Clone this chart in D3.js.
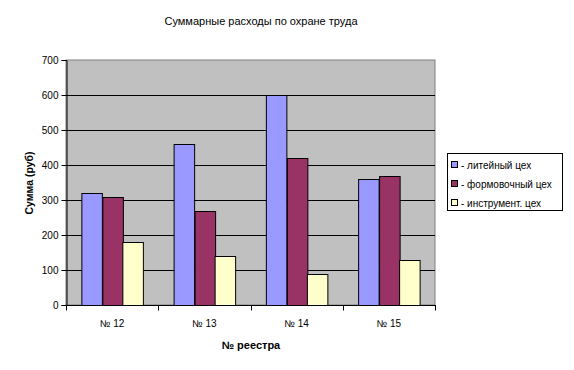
<!DOCTYPE html>
<html>
<head>
<meta charset="utf-8">
<script src="https://cdn.jsdelivr.net/npm/d3@7"></script>
<style>
  body { margin: 0; background: #fff; }
  svg { font-family: 'Liberation Sans', Arial, sans-serif; }
</style>
</head>
<body>
<svg id="chart" width="574" height="370"></svg>
<script>
const categories = ['№ 12', '№ 13', '№ 14', '№ 15']
const seriesNames = ['- литейный цех', '- формовочный цех', '- инструмент. цех']
const liteiny = [320, 460, 600, 360]
const formovochny = [310, 270, 420, 370]
const instrument = [180, 140, 90, 130]
const yTicks = [0, 100, 200, 300, 400, 500, 600, 700]
const colors = ['#9999FF', '#993366', '#FFFFCC']

const series = [liteiny, formovochny, instrument]
const data = categories.map((c, i) => ({
  cat: c,
  values: series.map((s, j) => ({ key: j, value: s[i] })),
}))

const svg = d3.select('#chart')
const plot = { left: 66, top: 60, right: 435, bottom: 305 }

const x0 = d3.scaleBand()
  .domain(categories)
  .range([plot.left, plot.right])
  .paddingInner(0.333)
  .paddingOuter(0.1665)
const x1 = d3.scaleBand()
  .domain(d3.range(series.length))
  .range([0, x0.bandwidth()])
const y = d3.scaleLinear().domain([0, 700]).range([plot.bottom, plot.top])

// plot background
svg.append('rect')
  .attr('x', plot.left)
  .attr('y', plot.top)
  .attr('width', plot.right - plot.left)
  .attr('height', plot.bottom - plot.top)
  .attr('fill', '#C0C0C0')
  .attr('stroke', '#808080')
  .attr('stroke-width', 1)

// gridlines
svg.append('g')
  .selectAll('line')
  .data(yTicks.filter((d) => d > 0 && d < 700))
  .enter()
  .append('line')
  .attr('x1', plot.left)
  .attr('x2', plot.right)
  .attr('y1', (d) => Math.round(y(d)) + 0.5)
  .attr('y2', (d) => Math.round(y(d)) + 0.5)
  .attr('stroke', '#000')

// bars
svg.append('g')
  .selectAll('g')
  .data(data)
  .enter()
  .append('g')
  .attr('transform', (d) => `translate(${x0(d.cat)},0)`)
  .selectAll('rect')
  .data((d) => d.values)
  .enter()
  .append('rect')
  .attr('x', (d) => Math.round(x1(d.key)) + 0.5)
  .attr('y', (d) => Math.round(y(d.value)) + 0.5)
  .attr('width', x1.bandwidth())
  .attr('height', (d) => plot.bottom - Math.round(y(d.value)))
  .attr('fill', (d) => colors[d.key])
  .attr('stroke', '#000')
  .attr('stroke-width', 1)

// y axis
const yAxis = svg.append('g')
  .attr('transform', `translate(${plot.left + 0.5},0)`)
  .call(d3.axisLeft(y).tickValues(yTicks).tickSize(5).tickPadding(3))
yAxis.select('.domain').attr('stroke', '#000')
yAxis.selectAll('text').attr('font-size', 10).attr('fill', '#000')

// x axis with ticks between categories
const xb = svg.append('g').attr('transform', `translate(0,${plot.bottom + 0.5})`)
xb.append('line')
  .attr('x1', plot.left)
  .attr('x2', plot.right + 1)
  .attr('stroke', '#000')
const step = x0.step()
xb.selectAll('.tick-x')
  .data(d3.range(categories.length + 1))
  .enter()
  .append('line')
  .attr('x1', (i) => Math.round(plot.left + i * step) + 0.5)
  .attr('x2', (i) => Math.round(plot.left + i * step) + 0.5)
  .attr('y1', 0)
  .attr('y2', 5)
  .attr('stroke', '#000')
xb.selectAll('text')
  .data(categories)
  .enter()
  .append('text')
  .attr('x', (d) => x0(d) + x0.bandwidth() / 2)
  .attr('y', 21)
  .attr('text-anchor', 'middle')
  .attr('font-size', 10)
  .text((d) => d)

// titles
svg.append('text')
  .attr('x', 261)
  .attr('y', 25)
  .attr('text-anchor', 'middle')
  .attr('font-size', 11)
  .text('Суммарные расходы по охране труда')

svg.append('text')
  .attr('x', 251)
  .attr('y', 349)
  .attr('text-anchor', 'middle')
  .attr('font-size', 11)
  .attr('font-weight', 'bold')
  .text('№ реестра')

svg.append('text')
  .attr('transform', 'translate(33,183) rotate(-90)')
  .attr('text-anchor', 'middle')
  .attr('font-size', 10.5)
  .attr('font-weight', 'bold')
  .text('Сумма (руб)')

// legend
const legend = svg.append('g')
legend.append('rect')
  .attr('x', 447.5)
  .attr('y', 153.5)
  .attr('width', 115)
  .attr('height', 57)
  .attr('fill', '#fff')
  .attr('stroke', '#000')
const items = legend.selectAll('.item')
  .data(seriesNames)
  .enter()
  .append('g')
  .attr('transform', (d, i) => `translate(451,${161 + i * 19})`)
items.append('rect')
  .attr('x', 0.5)
  .attr('y', 0.5)
  .attr('width', 6)
  .attr('height', 6)
  .attr('fill', (d, i) => colors[i])
  .attr('stroke', '#000')
items.append('text')
  .attr('x', 10)
  .attr('y', 7.5)
  .attr('font-size', 10)
  .text((d) => d)
</script>
</body>
</html>
